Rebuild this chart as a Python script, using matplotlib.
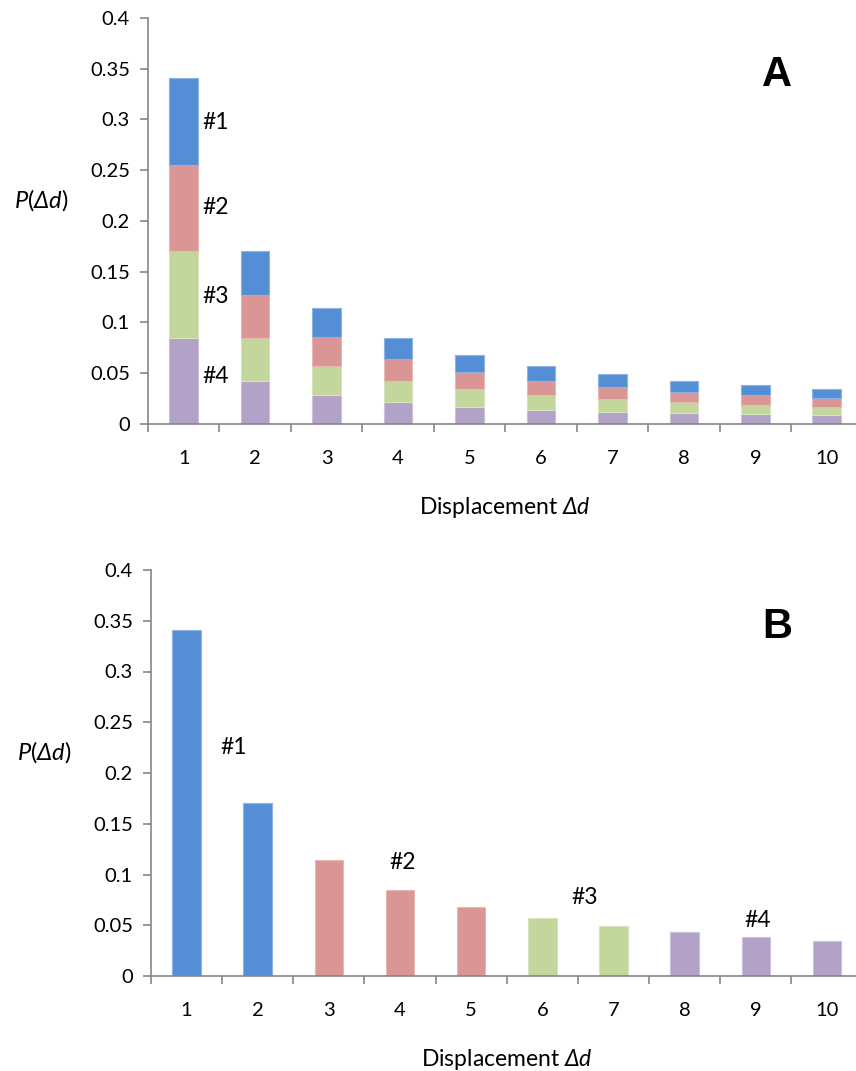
import matplotlib.pyplot as plt
from matplotlib.ticker import FixedLocator

plt.rcParams['font.family'] = ['Lato', 'DejaVu Sans']
plt.rcParams['mathtext.fontset'] = 'custom'
plt.rcParams['mathtext.it'] = 'Lato:italic'
plt.rcParams['mathtext.rm'] = 'Lato:italic'

# displacement categories
disp = [1, 2, 3, 4, 5, 6, 7, 8, 9, 10]

# panel A: stacked contributions (bottom #4 ... top #1)
seg4 = [0.085, 0.0425, 0.0285, 0.0213, 0.017, 0.0142, 0.0122, 0.0107, 0.0095, 0.0085]
seg3 = [0.085, 0.0425, 0.0285, 0.0213, 0.017, 0.0142, 0.0122, 0.0107, 0.0095, 0.0085]
seg2 = [0.0855, 0.0425, 0.0285, 0.0212, 0.017, 0.0143, 0.0122, 0.0106, 0.0095, 0.0085]
seg1 = [0.0855, 0.0425, 0.0285, 0.0212, 0.017, 0.0143, 0.0122, 0.0107, 0.0095, 0.0085]

# panel B: total probability, grouped
totals = [0.341, 0.170, 0.114, 0.085, 0.068, 0.057, 0.049, 0.043, 0.038, 0.034]
group = [1, 1, 2, 2, 2, 3, 3, 4, 4, 4]

colors = {1: '#558ed5', 2: '#d99694', 3: '#c3d69b', 4: '#b3a2c7'}
edges = {1: '#8db3e2', 2: '#e6b9b8', 3: '#d7e4bd', 4: '#ccc1da'}

yticks = [0, 0.05, 0.1, 0.15, 0.2, 0.25, 0.3, 0.35, 0.4]
ylabels = ['0', '0.05', '0.1', '0.15', '0.2', '0.25', '0.3', '0.35', '0.4']

W, H = 856, 1071
fig = plt.figure(figsize=(W / 100, H / 100), dpi=100)
axA = fig.add_axes([148 / W, 1 - 424 / H, (862.5 - 148) / W, 406 / H])
axB = fig.add_axes([151 / W, 1 - 976 / H, (862.5 - 151) / W, 406 / H])

axis_col = '#868686'


def style(ax, letter):
    ax.set_xlim(0.5, 10.5)
    ax.set_ylim(0, 0.4)
    for s in ['top', 'right']:
        ax.spines[s].set_visible(False)
    for s in ['left', 'bottom']:
        ax.spines[s].set_color(axis_col)
        ax.spines[s].set_linewidth(1.2)
    ax.set_yticks(yticks)
    ax.set_yticklabels(ylabels)
    ax.tick_params(axis='y', direction='out', length=6, width=1.2, color=axis_col,
                   labelsize=14.5, pad=7)
    ax.set_xticks(disp)
    ax.set_xticklabels([str(d) for d in disp])
    ax.tick_params(axis='x', which='major', length=0, labelsize=14.5, pad=19)
    ax.xaxis.set_minor_locator(FixedLocator([d - 0.5 for d in disp] + [10.5]))
    ax.tick_params(axis='x', which='minor', direction='out', length=6, width=1.2,
                   color=axis_col)
    ax.set_xlabel('Displacement $Δd$', fontsize=16.5, labelpad=20)
    ax.set_ylabel('$P$($Δd$)', fontsize=17, rotation=0, labelpad=0)
    ax.yaxis.set_label_coords(-0.15, 0.52)
    ax.text(0.88, 0.86, letter, transform=ax.transAxes, fontsize=30,
            fontweight='bold', family='Liberation Sans', ha='center', va='center')


# panel A
bottom = [0.0] * 10
for seg, g in [(seg4, 4), (seg3, 3), (seg2, 2), (seg1, 1)]:
    axA.bar(disp, seg, width=0.4, bottom=bottom, color=colors[g],
            edgecolor=edges[g], linewidth=0.8)
    bottom = [b + s for b, s in zip(bottom, seg)]

for txt, yy in [('#1', 0.297), ('#2', 0.2135), ('#3', 0.126), ('#4', 0.047)]:
    axA.text(1.26, yy, txt, fontsize=16.5, ha='left', va='center')
style(axA, 'A')

# panel B
axB.bar(disp, totals, width=0.4, color=[colors[g] for g in group],
        edgecolor=[edges[g] for g in group], linewidth=0.8)
for txt, xx, yy in [('#1', 1.66, 0.225), ('#2', 4.03, 0.112), ('#3', 6.6, 0.0775),
                    ('#4', 9.03, 0.055)]:
    axB.text(xx, yy, txt, fontsize=16.5, ha='center', va='center')
style(axB, 'B')

fig.savefig('out.png', dpi=100)
